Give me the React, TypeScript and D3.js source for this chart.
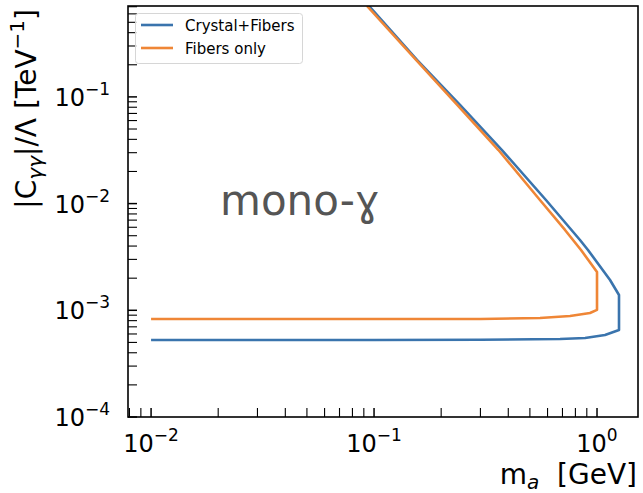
import React, { useEffect, useRef } from 'react';
import * as d3 from 'd3';

const W = 643;
const H = 493;
const M = { left: 128, right: 638, top: 6, bottom: 417 };

// Axis ranges (log scales)
const massDomain = [0.00788, 1.527];
const couplingDomain = [1e-4, 0.711];

// Major tick values and their exponents
const massTicks = [1e-2, 1e-1, 1e0];
const massTickExp = ['−2', '−1', '0'];
const couplingTicks = [1e-4, 1e-3, 1e-2, 1e-1];
const couplingTickExp = ['−4', '−3', '−2', '−1'];

// Crystal+Fibers sensitivity contour: m_a [GeV], |C_γγ|/Λ [TeV^-1]
const massCF = [0.01, 0.1, 0.3, 0.683, 0.884, 1.086, 1.255, 1.255, 1.144, 1.021, 0.9111, 0.8389, 0.5902, 0.3747, 0.2435, 0.1558, 0.09497];
const coupCF = [5.27e-4, 5.27e-4, 5.3e-4, 5.38e-4, 5.5e-4, 5.87e-4, 6.54e-4, 1.39e-3, 1.923e-3, 2.658e-3, 3.673e-3, 4.56e-3, 1.081e-2, 3.177e-2, 8.39e-2, 0.2218, 0.711];

// Fibers-only sensitivity contour
const massFO = [0.01, 0.1, 0.3, 0.555, 0.757, 0.93, 1.0, 1.0, 0.8478, 0.7186, 0.5546, 0.3613, 0.2366, 0.1543, 0.093];
const coupFO = [8.28e-4, 8.28e-4, 8.3e-4, 8.48e-4, 8.85e-4, 9.44e-4, 1.01e-3, 2.286e-3, 3.673e-3, 5.662e-3, 1.081e-2, 3.177e-2, 8.39e-2, 0.2218, 0.711];

const seriesNames = ['Crystal+Fibers', 'Fibers only'];
const seriesColors = ['#3a74ad', '#ef8636'];

const FONT = 'DejaVu Sans, sans-serif';

function minorTicks(domain: number[]) {
  const out: number[] = [];
  for (let e = -6; e <= 2; e++) {
    for (let k = 2; k <= 9; k++) {
      const v = k * Math.pow(10, e);
      if (v >= domain[0] && v <= domain[1]) out.push(v);
    }
  }
  return out;
}

export default function App() {
  const ref = useRef<SVGSVGElement>(null);

  useEffect(() => {
    const svg = d3.select(ref.current);
    svg.selectAll('*').remove();

    const x = d3.scaleLog().domain(massDomain).range([M.left, M.right]);
    const y = d3.scaleLog().domain(couplingDomain).range([M.bottom, M.top]);

    svg.append('rect').attr('width', W).attr('height', H).attr('fill', '#fff');

    svg.append('defs').append('clipPath').attr('id', 'plotclip')
      .append('rect')
      .attr('x', M.left).attr('y', M.top)
      .attr('width', M.right - M.left).attr('height', M.bottom - M.top);

    // Contours
    const line = d3.line<[number, number]>()
      .x((d) => x(d[0]))
      .y((d) => y(d[1]));

    const series: [number, number][][] = [
      massCF.map((m, i) => [m, coupCF[i]]),
      massFO.map((m, i) => [m, coupFO[i]]),
    ];

    const g = svg.append('g').attr('clip-path', 'url(#plotclip)');
    series.forEach((s, i) => {
      g.append('path')
        .attr('d', line(s) as string)
        .attr('fill', 'none')
        .attr('stroke', seriesColors[i])
        .attr('stroke-width', 2.6)
        .attr('stroke-linejoin', 'round');
    });

    // Region label
    svg.append('text')
      .attr('x', 220).attr('y', 215)
      .attr('font-family', FONT)
      .attr('font-size', 42)
      .attr('fill', '#555555')
      .text('mono-ɣ');

    // Ticks (pointing inward)
    const tickG = svg.append('g').attr('stroke', '#000');
    massTicks.forEach((v) => {
      tickG.append('line').attr('x1', x(v)).attr('x2', x(v))
        .attr('y1', M.bottom).attr('y2', M.bottom - 9).attr('stroke-width', 1.5);
    });
    minorTicks(massDomain).forEach((v) => {
      tickG.append('line').attr('x1', x(v)).attr('x2', x(v))
        .attr('y1', M.bottom).attr('y2', M.bottom - 9).attr('stroke-width', 1.1);
    });
    couplingTicks.forEach((v) => {
      tickG.append('line').attr('y1', y(v)).attr('y2', y(v))
        .attr('x1', M.left).attr('x2', M.left + 9).attr('stroke-width', 1.5);
    });
    minorTicks(couplingDomain).forEach((v) => {
      tickG.append('line').attr('y1', y(v)).attr('y2', y(v))
        .attr('x1', M.left).attr('x2', M.left + 9).attr('stroke-width', 1.1);
    });

    // Frame
    svg.append('rect')
      .attr('x', M.left).attr('y', M.top)
      .attr('width', M.right - M.left).attr('height', M.bottom - M.top)
      .attr('fill', 'none').attr('stroke', '#000').attr('stroke-width', 1.6);

    // Tick labels
    massTicks.forEach((v, i) => {
      const t = svg.append('text')
        .attr('x', x(v)).attr('y', 452)
        .attr('text-anchor', 'middle')
        .attr('font-family', FONT).attr('font-size', 24).attr('fill', '#000');
      t.append('tspan').text('10');
      t.append('tspan').attr('dy', -11).attr('font-size', 17).text(massTickExp[i]);
    });
    couplingTicks.forEach((v, i) => {
      const t = svg.append('text')
        .attr('x', 110).attr('y', y(v) + 9)
        .attr('text-anchor', 'end')
        .attr('font-family', FONT).attr('font-size', 24).attr('fill', '#000');
      t.append('tspan').text('10');
      t.append('tspan').attr('dy', -11).attr('font-size', 17).text(couplingTickExp[i]);
    });

    // Axis titles
    const xl = svg.append('text')
      .attr('x', 637).attr('y', 484)
      .attr('text-anchor', 'end')
      .attr('font-family', FONT).attr('font-size', 28).attr('fill', '#000');
    xl.append('tspan').text('m');
    xl.append('tspan').attr('dy', 5).attr('font-size', 20).attr('font-style', 'italic').text('a');
    xl.append('tspan').attr('dy', -5).text('\u00a0\u00a0[GeV]');

    const yl = svg.append('text')
      .attr('transform', 'translate(36,9) rotate(-90)')
      .attr('text-anchor', 'end')
      .attr('font-family', FONT).attr('font-size', 28).attr('fill', '#000');
    yl.append('tspan').text('|C');
    yl.append('tspan').attr('dy', 6).attr('font-size', 20).attr('font-style', 'italic').text('γγ');
    yl.append('tspan').attr('dy', -6).text('|/Λ [TeV');
    yl.append('tspan').attr('dy', -12).attr('font-size', 20).text('−1');
    yl.append('tspan').attr('dy', 12).text(']');

    // Legend
    const lg = svg.append('g');
    lg.append('rect')
      .attr('x', 135.5).attr('y', 13.5).attr('width', 167).attr('height', 50)
      .attr('rx', 3).attr('fill', '#fff').attr('fill-opacity', 0.8)
      .attr('stroke', '#d6d6d6').attr('stroke-width', 1);
    seriesNames.forEach((name, i) => {
      const yy = 25 + i * 23;
      lg.append('line')
        .attr('x1', 141).attr('x2', 173).attr('y1', yy).attr('y2', yy)
        .attr('stroke', seriesColors[i]).attr('stroke-width', 2.6);
      lg.append('text')
        .attr('x', 185).attr('y', yy + 5.5)
        .attr('font-family', FONT).attr('font-size', 15).attr('fill', '#000')
        .text(name);
    });
  }, []);

  return (
    <svg
      ref={ref}
      width={W}
      height={H}
      style={{ position: 'absolute', left: 0, top: 0 }}
    />
  );
}
